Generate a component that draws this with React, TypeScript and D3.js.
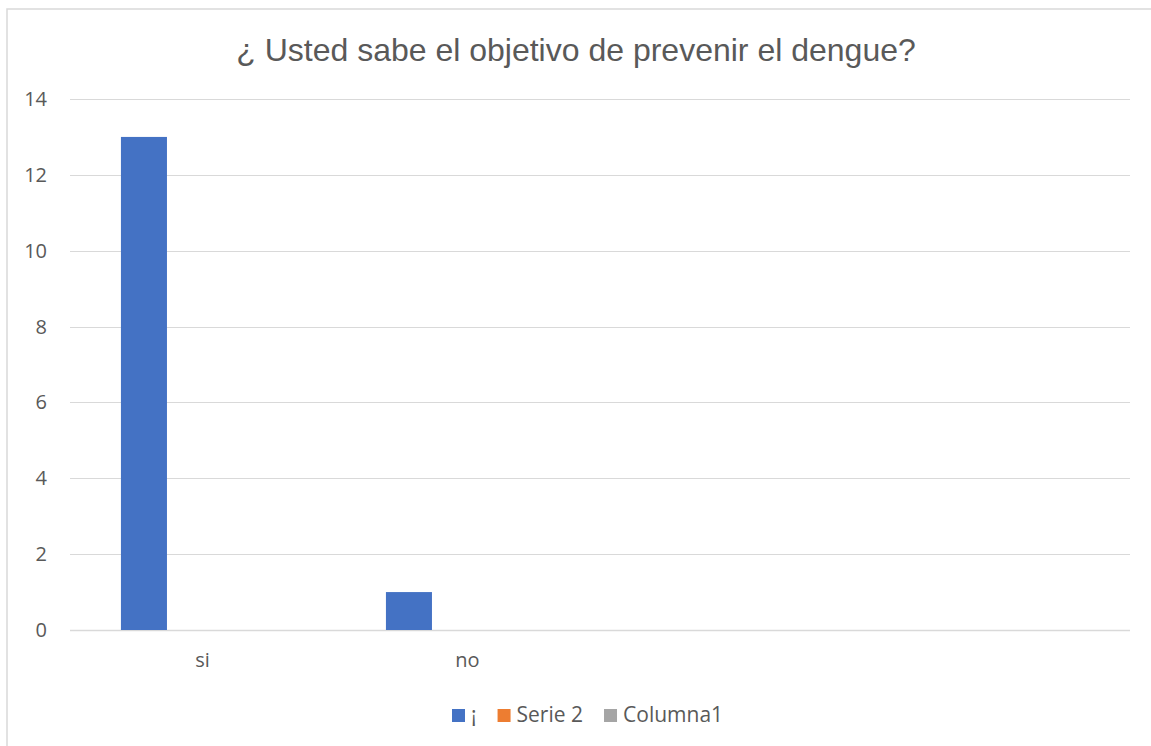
import React, { useRef, useEffect } from 'react';
import * as d3 from 'd3';

const title = '¿ Usted sabe el objetivo de prevenir el dengue?';
const categories = ['si', 'no', '', ''];
const seriesNames = ['¡', 'Serie 2', 'Columna1'];
const seriesColors = ['#4472c4', '#ed7d31', '#a5a5a5'];
const serie1 = [13, 1, null, null];
const serie2 = [null, null, null, null];
const columna1 = [null, null, null, null];
const yTicks = [0, 2, 4, 6, 8, 10, 12, 14];

export default function App() {
    const svgRef = useRef<SVGSVGElement | null>(null);

    useEffect(() => {
        const width = 1151;
        const height = 746;
        const margin = { top: 99, right: 21, bottom: 116, left: 70 };
        const font = 'Open Sans';

        d3.select(svgRef.current).selectAll('*').remove();

        const svg = d3
            .select(svgRef.current)
            .attr('width', width)
            .attr('height', height);

        // chart area border (only left and top are visible in the shot)
        svg.append('rect')
            .attr('x', 7)
            .attr('y', 9)
            .attr('width', width + 20)
            .attr('height', height + 20)
            .attr('fill', 'white')
            .attr('stroke', '#d9d9d9')
            .attr('stroke-width', 1.5);

        const x = d3
            .scaleBand<number>()
            .domain(categories.map((_, i) => i))
            .range([margin.left, width - margin.right]);

        const xSub = d3
            .scaleBand<number>()
            .domain(seriesNames.map((_, i) => i))
            .range([0, x.bandwidth()])
            .paddingInner(0.214)
            .paddingOuter(0.87);

        const y = d3
            .scaleLinear()
            .domain([0, 14])
            .range([height - margin.bottom, margin.top]);

        yTicks.forEach((t) => {
            svg.append('line')
                .attr('x1', margin.left)
                .attr('x2', width - margin.right)
                .attr('y1', Math.round(y(t)) + 0.5)
                .attr('y2', Math.round(y(t)) + 0.5)
                .attr('stroke', '#d9d9d9')
                .attr('stroke-width', t === 0 ? 1.5 : 1);

            svg.append('text')
                .attr('x', 47)
                .attr('y', y(t) + 7)
                .attr('text-anchor', 'end')
                .text(t)
                .attr('fill', '#595959')
                .attr('font-family', font)
                .attr('font-size', 20);
        });

        const allSeries = [serie1, serie2, columna1];
        allSeries.forEach((vals, s) => {
            vals.forEach((v, i) => {
                if (v == null) return;
                svg.append('rect')
                    .attr('x', x(i)! + xSub(s)!)
                    .attr('y', y(v))
                    .attr('width', xSub.bandwidth())
                    .attr('height', y(0) - y(v))
                    .attr('fill', seriesColors[s]);
            });
        });

        categories.forEach((c, i) => {
            svg.append('text')
                .attr('x', x(i)! + x.bandwidth() / 2)
                .attr('y', height - margin.bottom + 37)
                .attr('text-anchor', 'middle')
                .text(c)
                .attr('fill', '#595959')
                .attr('font-family', font)
                .attr('font-size', 20);
        });

        svg.append('text')
            .attr('x', 576)
            .attr('y', 61)
            .attr('text-anchor', 'middle')
            .text(title)
            .attr('fill', '#595959')
            .attr('font-family', 'Liberation Sans')
            .attr('font-size', 32);

        // legend
        const legend = svg.append('g');
        let lx = 452;
        seriesNames.forEach((name, i) => {
            legend.append('rect')
                .attr('x', lx)
                .attr('y', 709)
                .attr('width', 13)
                .attr('height', 13)
                .attr('fill', seriesColors[i]);
            const t = legend.append('text')
                .attr('x', lx + 19)
                .attr('y', 722)
                .text(name)
                .attr('fill', '#595959')
                .attr('font-family', font)
                .attr('font-size', 21);
            const w = (t.node() as SVGTextElement).getComputedTextLength();
            lx += 19 + w + 21;
        });
    }, []);

    return (
        <svg
            ref={svgRef}
            style={{ position: 'absolute', left: 0, top: 0, background: 'white' }}
        ></svg>
    );
}
